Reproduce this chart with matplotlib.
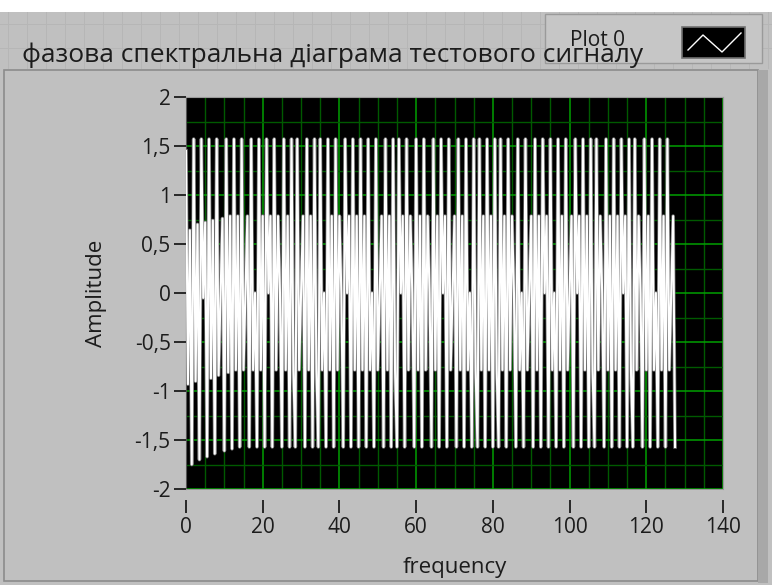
import matplotlib
matplotlib.use("Agg")
import matplotlib.pyplot as plt
from matplotlib.patches import Rectangle
from matplotlib.lines import Line2D
from matplotlib.ticker import MultipleLocator, FuncFormatter

# phase values, two samples per frequency unit (0 .. 127.5)
phase = [
    1.45, -0.93, 0.64, -1.75,
    1.571, -0.90, 0.70, -1.70,
    1.571, -0.05, 0.72, -1.67,
    1.571, -0.87, 0.74, -1.64,
    1.571, -0.84, -0.02, 0.76, -1.61,
    1.571, -0.81, 0.785, -1.59,
    # block 1
    1.571, -0.785, 0.785, -1.571,
    1.571, -0.785, 0.0, 0.785, -1.571,
    1.571, -0.785, 0.0, -1.571,
    1.571, -0.785, 0.785, -1.571,
    1.571, 0.0, 0.785, -1.571,
    1.571, -0.785, 0.785, 0.0, -1.571,
    1.571, -0.785, 0.785, -1.571,
    1.571, -0.785, -1.571,
    # block 2
    1.571, -0.785, 0.0, 0.785, -1.571,
    1.571, -0.785, 0.785, -1.571,
    1.571, -0.785, -1.571,
    1.571, -0.785, 0.0, -1.571,
    1.571, -0.785, 0.785, -1.571,
    1.571, -0.785, 0.785, 0.0, -1.571,
    1.571, 0.0, 0.785, -1.571,
    1.571, -0.785, 0.785, -1.571,
    # block 3
    1.571, -0.785, 0.785, -1.571,
    1.571, -0.785, 0.0, -1.571,
    1.571, -0.785, 0.0, 0.785, -1.571,
    1.571, -0.785, 0.785, -1.571,
    1.571, -0.785, -1.571,
    1.571, 0.0, 0.785, -1.571,
    1.571, -0.785, 0.785, 0.0, -1.571,
    1.571, -0.785, 0.785, -1.571,
    # block 4
    1.571, -0.785, 0.785, 0.0, -1.571,
    1.571, -0.785, 0.785, -1.571,
    1.571, 0.0, 0.785, -1.571,
    1.571, -0.785, 0.0, 0.785, -1.571,
    1.571, -0.785, 0.785, -1.571,
    1.571, -0.785, 0.0, -1.571,
    1.571, -0.785, -1.571,
    1.571, -0.785, 0.785, -1.571,
    # block 5
    1.571, -0.785, 0.785, -1.571,
    1.571, -0.785, -1.571,
    1.571, -0.785, 0.785, -1.571,
    1.571, -0.785, 0.785, 0.0, -1.571,
    1.571, -0.785, 0.0, -1.571,
    1.571, -0.785, 0.0, 0.785, -1.571,
    1.571, -0.785, 0.785, -1.571,
    1.571, 0.0, 0.785, -1.571,
    # block 6
    1.571, -0.785, 0.0, -1.571,
    1.571, -0.785, 0.785, -1.571,
    1.571, -0.785, 0.0, 0.785, -1.571,
    1.571, 0.0, 0.785, -1.571,
    1.571, -0.785, 0.785, -1.571,
    1.571, -0.785, -1.571,
    1.571, -0.785, 0.785, 0.0, -1.571,
    1.571, -0.785, 0.785, -1.571,
    # block 7
    1.571, -0.785, 0.785, -1.571,
    1.571, 0.0, 0.785, -1.571,
    1.571, -0.785, -1.571,
    1.571, -0.785, 0.785, 0.0, -1.571,
    1.571, -0.785, 0.785, -1.571,
    1.571, -0.785, 0.0, -1.571,
    1.571, -0.785, 0.785, -1.571,
    1.571, -0.785, 0.0, 0.785, -1.571,
]
df = 0.5
freq = [i * df for i in range(len(phase))]

x_ticks = [0, 20, 40, 60, 80, 100, 120, 140]
y_ticks = [-2, -1.5, -1, -0.5, 0, 0.5, 1, 1.5, 2]

title = "фазова спектральна діаграма тестового сигналу"
legend_name = "Plot 0"

W, H = 772, 585
FONT = ["Open Sans", "DejaVu Sans"]
TXT = "#1c1c1c"
PANEL = "#c0c0c0"

fig = plt.figure(figsize=(W / 100, H / 100), dpi=100)
fig.patch.set_facecolor(PANEL)


def px(x, y):
    return x / W, 1 - y / H


def rect(x0, y0, x1, y1, **kw):
    fx, fy = px(x0, y1)
    r = Rectangle((fx, fy), (x1 - x0) / W, (y1 - y0) / H,
                  transform=fig.transFigure, **kw)
    fig.add_artist(r)
    return r


# white strip on top and the faint front panel grid
rect(0, 0, W, 12, facecolor="white", edgecolor="none", zorder=-3)
for gx in range(8, W, 19):
    fig.add_artist(Line2D([gx / W, gx / W], [1 - 12 / H, 1 - 68 / H],
                          transform=fig.transFigure, color="#b6b6b6", lw=0.7, zorder=-3))
for gy in [24, 48]:
    fig.add_artist(Line2D([0, 1], [1 - gy / H, 1 - gy / H],
                          transform=fig.transFigure, color="#b6b6b6", lw=0.7, zorder=-3))

# graph frame
rect(4, 70, 758, 581, facecolor=PANEL, edgecolor="#8c8c8c", lw=1.2, zorder=-2)
rect(758, 70, 768, 583, facecolor="#a8a8a8", edgecolor="none", zorder=-2)

# legend
rect(545, 14, 762, 63, facecolor="#c6c6c6", edgecolor="#9a9a9a", lw=1.0, zorder=2)
rect(682, 27, 745, 58, facecolor="black", edgecolor="#707070", lw=1.2, zorder=3)
zx = [688, 703, 722, 741]
zy = [50, 35, 52, 33]
fig.add_artist(Line2D([px(a, b)[0] for a, b in zip(zx, zy)],
                      [px(a, b)[1] for a, b in zip(zx, zy)],
                      transform=fig.transFigure, color="white", lw=1.0, zorder=4))

fig.text(22 / W, 1 - 55 / H, title, fontsize=19, family=FONT, color=TXT,
         ha="left", va="center", zorder=4)
fig.text(625 / W, 1 - 40 / H, legend_name, fontsize=15, family=FONT, color=TXT,
         ha="right", va="center", zorder=5)

# plot area
ax = fig.add_axes([186 / W, 1 - 489 / H, (723 - 186) / W, (489 - 97) / H])
ax.set_zorder(1)
ax.set_facecolor("black")
ax.set_xlim(0, 140)
ax.set_ylim(-2, 2)

ax.xaxis.set_minor_locator(MultipleLocator(5))
ax.yaxis.set_minor_locator(MultipleLocator(0.25))
ax.set_xticks(x_ticks)
ax.set_yticks(y_ticks)
ax.yaxis.set_major_formatter(FuncFormatter(lambda v, p: ("%g" % v).replace(".", ",")))

ax.grid(which="major", color="#00a000", lw=1.1)
ax.grid(which="minor", color="#005a00", lw=1.0)
ax.set_axisbelow(True)

# white trace with the soft grey rim it has in the screenshot
ax.plot(freq, phase, color="#6e6e6e", lw=2.6, zorder=3)
ax.plot(freq, phase, color="white", lw=1.5, zorder=4)

for s in ["top", "right"]:
    ax.spines[s].set_color("#9a9a9a")
ax.spines["left"].set_color("#555555")
ax.spines["bottom"].set_position(("outward", 8))
ax.spines["bottom"].set_visible(False)
rect(186, 489, 723, 490, facecolor="#9a9a9a", edgecolor="none", zorder=5)

ax.tick_params(which="minor", length=0)
ax.tick_params(axis="y", which="major", direction="out", length=9, width=1.3,
               color=TXT, labelsize=15, labelcolor=TXT, pad=2)
ax.tick_params(axis="x", which="major", direction="out", length=9, width=1.3,
               color=TXT, labelsize=15, labelcolor=TXT, pad=3)
for lab in ax.get_xticklabels() + ax.get_yticklabels():
    lab.set_family(FONT)

ax.set_xlabel("frequency", fontsize=16, family=FONT, color=TXT, labelpad=14)
ax.set_ylabel("Amplitude", fontsize=16, family=FONT, color=TXT, labelpad=20)

fig.savefig("out.png", dpi=100, facecolor=fig.get_facecolor())
